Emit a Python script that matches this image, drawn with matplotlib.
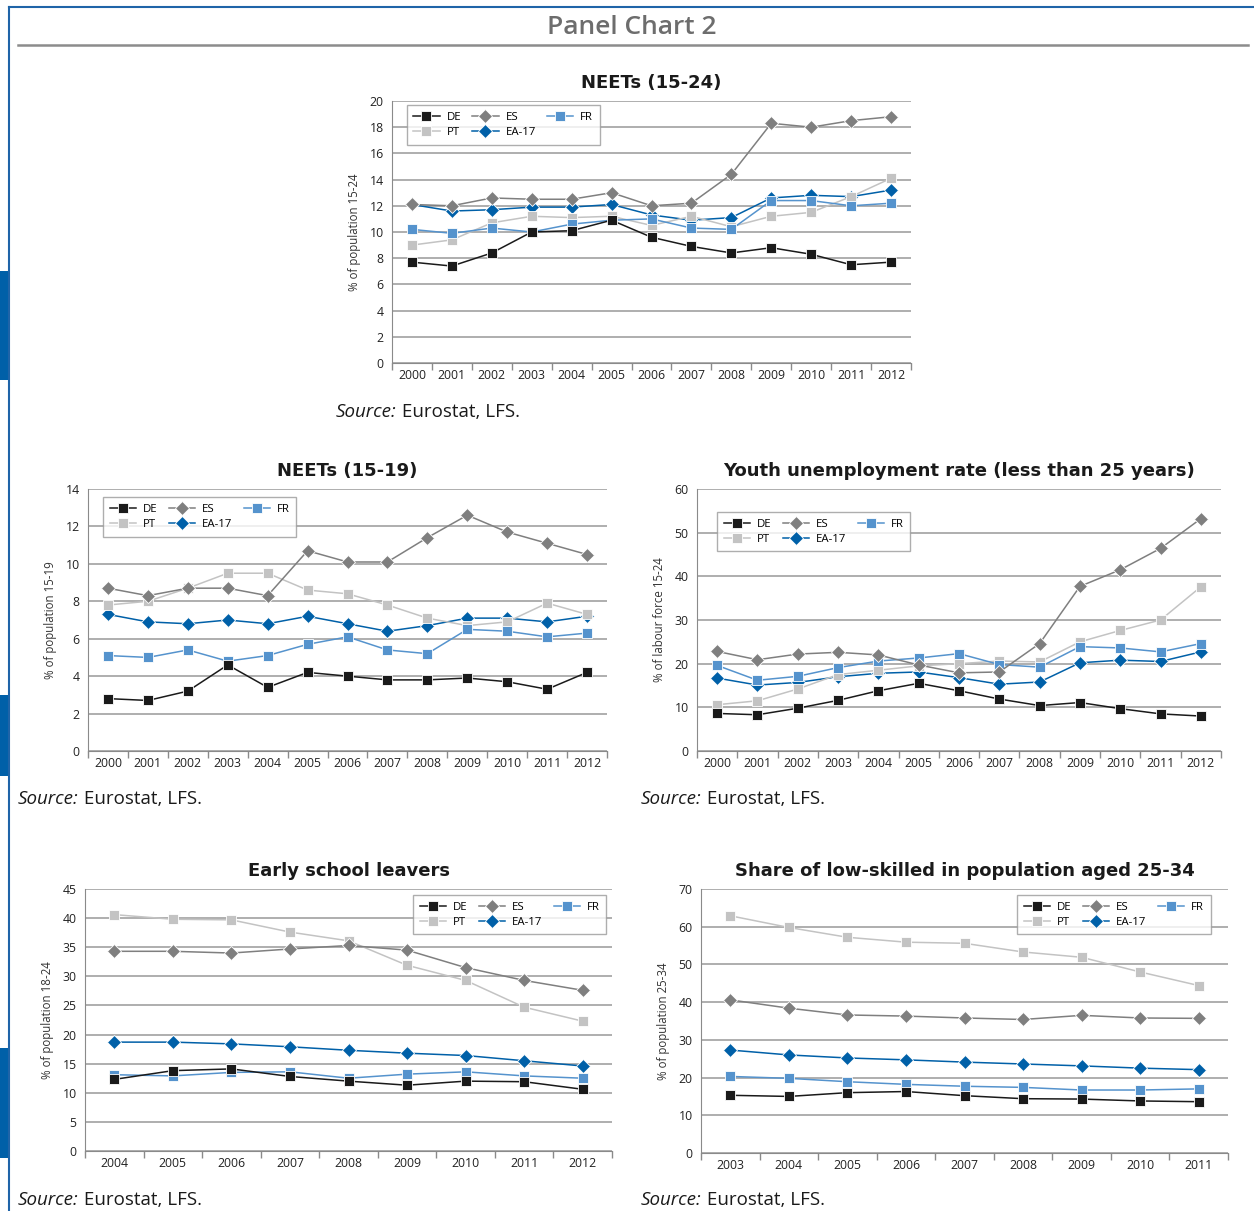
import numpy as np
import matplotlib
matplotlib.use("Agg")
import matplotlib.pyplot as plt
from matplotlib.patches import Rectangle
from matplotlib.lines import Line2D

plt.rcParams['font.family'] = ['Open Sans', 'DejaVu Sans']

W, H = 1254, 1211

# ---- data ----
years_a = [str(y) for y in range(2000, 2013)]
years_esl = [str(y) for y in range(2004, 2013)]
years_low = [str(y) for y in range(2003, 2012)]

neet24_de = [7.7, 7.4, 8.4, 10.0, 10.1, 10.9, 9.6, 8.9, 8.4, 8.8, 8.3, 7.5, 7.7]
neet24_es = [12.1, 12.0, 12.6, 12.5, 12.5, 13.0, 12.0, 12.2, 14.4, 18.3, 18.0, 18.5, 18.8]
neet24_fr = [10.2, 9.9, 10.3, 10.0, 10.6, 10.9, 11.0, 10.3, 10.2, 12.4, 12.4, 12.0, 12.2]
neet24_pt = [9.0, 9.4, 10.7, 11.2, 11.1, 11.2, 10.5, 11.2, 10.4, 11.2, 11.5, 12.7, 14.1]
neet24_ea = [12.1, 11.6, 11.7, 11.9, 11.9, 12.1, 11.3, 10.9, 11.1, 12.6, 12.8, 12.7, 13.2]

neet19_de = [2.8, 2.7, 3.2, 4.6, 3.4, 4.2, 4.0, 3.8, 3.8, 3.9, 3.7, 3.3, 4.2]
neet19_es = [8.7, 8.3, 8.7, 8.7, 8.3, 10.7, 10.1, 10.1, 11.4, 12.6, 11.7, 11.1, 10.5]
neet19_fr = [5.1, 5.0, 5.4, 4.8, 5.1, 5.7, 6.1, 5.4, 5.2, 6.5, 6.4, 6.1, 6.3]
neet19_pt = [7.8, 8.0, 8.7, 9.5, 9.5, 8.6, 8.4, 7.8, 7.1, 6.7, 6.9, 7.9, 7.3]
neet19_ea = [7.3, 6.9, 6.8, 7.0, 6.8, 7.2, 6.8, 6.4, 6.7, 7.1, 7.1, 6.9, 7.2]

unemp_de = [8.6, 8.3, 9.8, 11.6, 13.8, 15.5, 13.8, 11.9, 10.4, 11.1, 9.7, 8.5, 8.0]
unemp_es = [22.8, 20.9, 22.2, 22.6, 22.0, 19.7, 17.9, 18.1, 24.6, 37.7, 41.5, 46.4, 53.2]
unemp_fr = [19.6, 16.2, 17.1, 19.1, 20.6, 21.3, 22.3, 19.8, 19.2, 23.9, 23.6, 22.7, 24.6]
unemp_pt = [10.6, 11.5, 14.2, 17.5, 18.5, 19.5, 20.0, 20.6, 20.4, 25.0, 27.6, 30.0, 37.6]
unemp_ea = [16.7, 15.1, 15.7, 17.0, 17.8, 18.1, 16.8, 15.3, 15.8, 20.2, 20.8, 20.5, 22.7]

esl_de = [12.3, 13.8, 14.1, 12.8, 12.0, 11.3, 12.0, 11.9, 10.6]
esl_es = [34.3, 34.3, 34.0, 34.7, 35.3, 34.5, 31.5, 29.3, 27.6]
esl_fr = [13.1, 12.9, 13.5, 13.6, 12.5, 13.2, 13.6, 12.9, 12.5]
esl_pt = [40.6, 39.8, 39.7, 37.6, 36.1, 31.9, 29.3, 24.7, 22.3]
esl_ea = [18.7, 18.7, 18.4, 17.9, 17.3, 16.8, 16.4, 15.5, 14.6]

low_de = [15.3, 15.0, 16.0, 16.3, 15.2, 14.4, 14.3, 13.8, 13.6]
low_es = [40.6, 38.4, 36.6, 36.3, 35.8, 35.4, 36.5, 35.8, 35.7]
low_fr = [20.3, 19.8, 18.9, 18.2, 17.7, 17.4, 16.7, 16.7, 17.0]
low_pt = [62.9, 59.8, 57.2, 55.9, 55.6, 53.3, 51.9, 48.0, 44.4]
low_ea = [27.3, 26.0, 25.2, 24.7, 24.1, 23.6, 23.1, 22.5, 22.1]

# series style: colour, marker, size, zorder
STYLE = {
    'DE': ('#1a1a1a', 's', 7.5, 7),
    'ES': ('#7f7f7f', 'D', 7.5, 6),
    'FR': ('#5593cd', 's', 7.5, 5),
    'PT': ('#c3c3c3', 's', 7.5, 4),
    'EA-17': ('#0060a8', 'D', 7.5, 3),
}


def px_axes(fig, x0, y0, x1, y1):
    return fig.add_axes([x0 / W, 1 - y1 / H, (x1 - x0) / W, (y1 - y0) / H])


def panel(ax, cats, series, ymax, ystep, ylabel, title, leg_loc, leg_anchor):
    n = len(cats)
    x = np.arange(n)
    for name, vals in series:
        col, mk, ms, z = STYLE[name]
        ax.plot(x, vals, color=col, lw=1.1, marker=mk, ms=ms, mfc=col,
                mec='white', mew=0.6, zorder=z, label=name)
    ax.set_xlim(-0.5, n - 0.5)
    ax.set_ylim(0, ymax)
    ax.set_yticks(np.arange(0, ymax + 0.01, ystep))
    ax.yaxis.grid(True, color='#a8a8a8', lw=1.3)
    ax.set_axisbelow(True)
    ax.set_xticks(x)
    ax.set_xticklabels(cats)
    ax.set_xticks(np.arange(-0.5, n), minor=True)
    ax.tick_params(axis='x', which='major', length=0, labelsize=8.8, pad=4, colors='#222222')
    ax.tick_params(axis='x', which='minor', length=5, color='#8a8a8a', width=1)
    ax.tick_params(axis='y', length=0, labelsize=8.8, pad=6, colors='#222222')
    for s in ['top', 'right']:
        ax.spines[s].set_visible(False)
    ax.spines['left'].set_color('#8a8a8a')
    ax.spines['bottom'].set_color('#8a8a8a')
    ax.set_ylabel(ylabel, fontsize=8.3, color='#333333', labelpad=6)
    ax.set_title(title, fontsize=13, fontweight='bold', color='#1a1a1a', pad=9,
                 family='DejaVu Sans')
    handles = {}
    for name, _ in series:
        col, mk, ms, z = STYLE[name]
        handles[name] = Line2D([], [], color=col, lw=1.1, marker=mk, ms=ms,
                               mfc=col, mec='white', mew=0.6)
    order = ['DE', 'PT', 'ES', 'EA-17', 'FR']
    leg = ax.legend([handles[k] for k in order], order, ncol=3, loc=leg_loc,
                    bbox_to_anchor=leg_anchor, fontsize=8.2, frameon=True,
                    fancybox=False, edgecolor='#9a9a9a', handlelength=2.3,
                    columnspacing=1.0, handletextpad=0.6, borderpad=0.6,
                    labelspacing=0.35, numpoints=1)
    leg.get_frame().set_linewidth(1.0)


fig = plt.figure(figsize=(W / 100, H / 100), dpi=100)
fig.patch.set_facecolor('white')

# frame and decorations
fig.add_artist(Line2D([9 / W, 9 / W], [0, 1 - 7 / H], color='#1f64a8', lw=1.5))
fig.add_artist(Line2D([9 / W, 1], [1 - 7 / H, 1 - 7 / H], color='#1f64a8', lw=1.5))
for y0, y1 in [(271, 380), (695, 776), (1048, 1158)]:
    fig.add_artist(Rectangle((0, 1 - y1 / H), 9 / W, (y1 - y0) / H,
                             transform=fig.transFigure, color='#0060a8', lw=0))
fig.add_artist(Line2D([18 / W, 1248 / W], [1 - 45 / H, 1 - 45 / H], color='#8c8c8c', lw=1.8))
fig.text(632 / W, 1 - 28 / H, "Panel Chart 2", fontsize=19, color='#6d6d6d',
         ha='center', va='center', fontweight='semibold')

ax1 = px_axes(fig, 392, 101, 911, 363)
panel(ax1, years_a, [('DE', neet24_de), ('ES', neet24_es), ('FR', neet24_fr),
                     ('PT', neet24_pt), ('EA-17', neet24_ea)],
      20, 2, "% of population 15-24", "NEETs (15-24)", 'upper left', (0.017, 1.005))

ax2 = px_axes(fig, 88, 489, 607, 751)
panel(ax2, years_a, [('DE', neet19_de), ('ES', neet19_es), ('FR', neet19_fr),
                     ('PT', neet19_pt), ('EA-17', neet19_ea)],
      14, 2, "% of population 15-19", "NEETs (15-19)", 'upper left', (0.018, 0.99))

ax3 = px_axes(fig, 697, 489, 1221, 751)
panel(ax3, years_a, [('DE', unemp_de), ('ES', unemp_es), ('FR', unemp_fr),
                     ('PT', unemp_pt), ('EA-17', unemp_ea)],
      60, 10, "% of labour force 15-24", "Youth unemployment rate (less than 25 years)",
      'upper left', (0.027, 0.935))

ax4 = px_axes(fig, 85, 889, 612, 1151)
panel(ax4, years_esl, [('DE', esl_de), ('ES', esl_es), ('FR', esl_fr),
                       ('PT', esl_pt), ('EA-17', esl_ea)],
      45, 5, "% of population 18-24", "Early school leavers", 'upper right', (1.0, 1.0))

ax5 = px_axes(fig, 701, 889, 1228, 1153)
panel(ax5, years_low, [('DE', low_de), ('ES', low_es), ('FR', low_fr),
                       ('PT', low_pt), ('EA-17', low_ea)],
      70, 10, "% of population 25-34", "Share of low-skilled in population aged 25-34",
      'upper right', (0.978, 1.0))

# source notes: italic "Source:" followed by regular text
for x, y in [(336, 412), (18, 799), (641, 799), (18, 1200), (641, 1200)]:
    t1 = fig.text(x / W, 1 - y / H, "Source:", fontsize=13.5, style='italic',
                  color='#1a1a1a', va='center', ha='left')
    ax1.annotate(" Eurostat, LFS.", xy=(1, 0.5), xycoords=t1, fontsize=13.5,
                 color='#1a1a1a', va='center', ha='left', annotation_clip=False)

fig.savefig("out.png", dpi=100)
